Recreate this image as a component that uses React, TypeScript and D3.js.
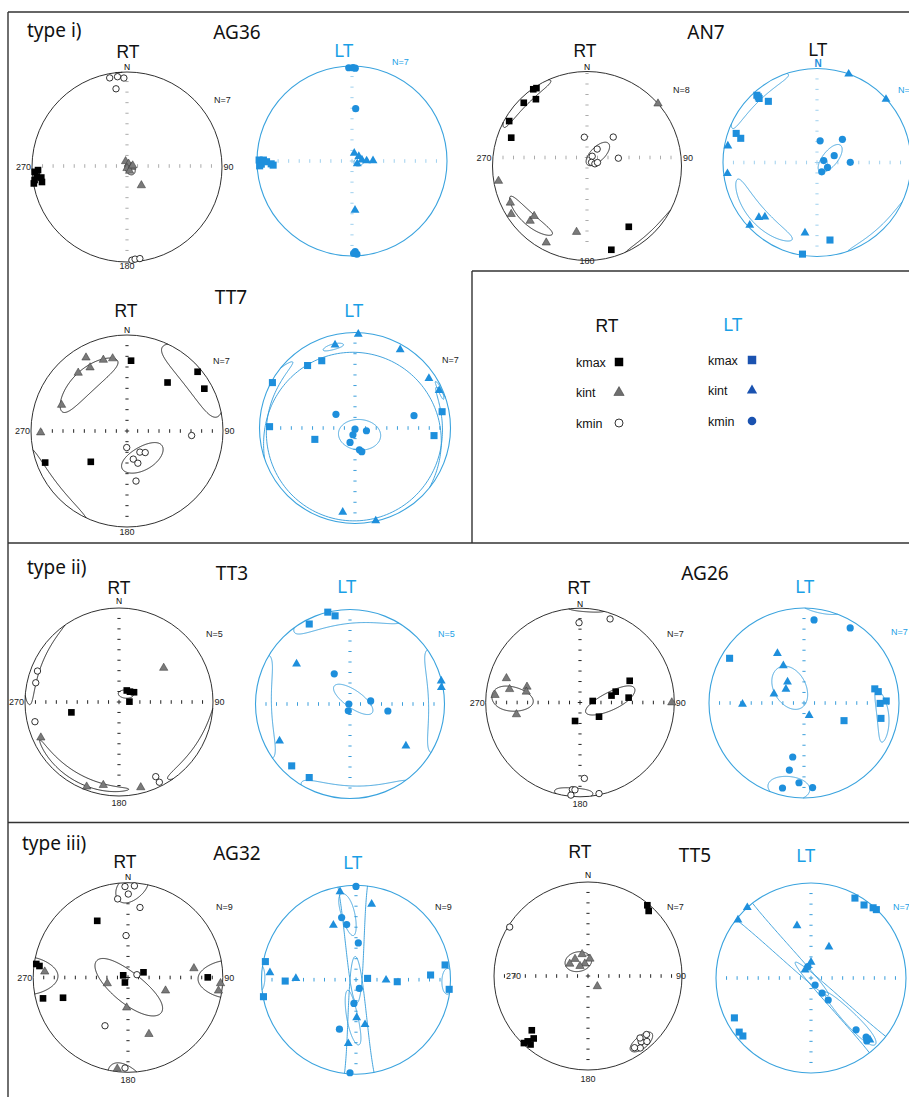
import React from "react";
import * as d3 from "d3";

type TP = [number, number]; // [trend, plunge] in degrees
type EL = [number, number, number, number, number]; // [trend, plunge, semiA, semiB, azimuth of A axis]

// ---------------- DATA (trend, plunge) ----------------
const AG36_RT_KMAX: TP[] = [[267,3],[264,5],[262,2],[263,10],[260,10],[260,0.5],[268,7]];
const AG36_RT_KINT: TP[] = [[346,85],[27,87],[90,86],[180,89],[146,86],[76,85],[142,70]];
const AG36_RT_KMIN: TP[] = [[349,5],[354,5],[358,7],[352,18],[177,2],[175,3],[172,3]];
const AG36_RT_ELL: EL[] = [[120,87,5.5,4,150],[175,2,3.5,2.5,85]];

const AG36_LT_KMAX: TP[] = [[270.6,2.5],[268,5],[270.6,7.5],[269.5,11],[268,16],[267,18],[267,3]];
const AG36_LT_KINT: TP[] = [[16,83],[56,83],[89,77.5],[89,72],[84,81.5],[117,85],[176.5,47]];
const AG36_LT_KMIN: TP[] = [[358,2],[0.6,2],[2,2.5],[4,44],[178,5],[177,2],[179,3]];
const AG36_LT_ELL: EL[] = [[95,84,4.5,3.5,60]];

const AN7_RT_KMAX: TP[] = [[325,1],[327,2],[315,6],[322.6,12],[300,5.5],[290.5,15.5],[145.5,23],[163.8,8.5]];
const AN7_RT_KINT: TP[] = [[48.7,0],[260.4,5.6],[244.4,11],[237.6,5.6],[226,17.5],[226.5,24],[208,9],[189,30]];
const AN7_RT_KMIN: TP[] = [[354.7,65],[42.2,56],[31,73],[28,80.5],[76,62],[51,85],[74.5,83],[71.6,80.5]];
const AN7_RT_ELL: EL[] = [[316,3,21,7,44],[228,18,20,6.5,128],[42,76,13,6,45]];

const AN7_LT_KMAX: TP[] = [[318.2,4.5],[317.9,9],[318.2,7],[321.5,18],[289.8,9.5],[287.6,16],[170.5,17.5],[189,1.5]];
const AN7_LT_KINT: TP[] = [[19.7,0],[47.5,0.5],[280.5,4],[263,4.5],[226.6,16],[223.8,21],[227,2.5],[189.7,25]];
const AN7_LT_KMIN: TP[] = [[8.2,71],[47.6,60],[68.5,74],[74,84],[89.7,61],[115,80],[153,81]];
const AN7_LT_ELL: EL[] = [[317,3,25,8,45],[228,17,29,9,138],[73,78,14.5,6.5,39]];

const TT7_RT_KMAX: TP[] = [[3.3,27.5],[39.9,34.5],[50,4.5],[61.3,9],[248.9,9.5],[229.6,49]];
const TT7_RT_KINT: TP[] = [[330.8,13.5],[341.6,23],[348.8,24],[329.8,24.5],[320,22],[291.7,27.5],[269,11]];
const TT7_RT_KMIN: TP[] = [[94,33],[181,76],[148.6,69],[139.8,66],[167.4,65.5],[161.4,61],[169.8,46]];
const TT7_RT_ELL: EL[] = [[320,33,28.5,11,46],[52,7,29,17,142],[150,63,19,10,60]];

const TT7_LT_KMAX: TP[] = [[333.7,22.5],[322.8,19],[298.8,1.5],[270.9,11.5],[254.2,54],[79.4,8],[95.5,18]];
const TT7_LT_KINT: TP[] = [[2,2],[346.5,11.5],[30,6],[56.1,7.5],[66,4],[188.3,12],[167.4,0.5]];
const TT7_LT_KMIN: TP[] = [[305.7,70],[78.2,37],[180,89],[197,84],[103.6,80],[199,77],[168.5,71],[164,69]];
const TT7_LT_ELL: EL[] = [[146,83,18,13,95],[345,13,7,3,75],[10,9.5,127,12.5,100],[66,3,6,2,156]];

const TT3_RT_KMAX: TP[] = [[34,78],[46.8,77],[57,74.5],[88,81],[257.7,47]];
const TT3_RT_KINT: TP[] = [[52.7,40],[245.5,9.5],[200.9,4],[190.7,11],[165.7,7]];
const TT3_RT_KMIN: TP[] = [[290.8,8],[283,10],[256.8,9],[153.8,12.5],[153.3,5]];
const TT3_RT_ELL: EL[] = [[41,81,6.5,3.5,95],[209,9,35,4.5,299],[298,1,30,8,18]];

const TT3_LT_KMAX: TP[] = [[346.4,0],[350.4,6],[333,5.6],[223.3,11],[209,12]];
const TT3_LT_KINT: TP[] = [[306.9,30],[75.8,0.5],[79.8,2],[242.4,17],[126.8,27]];
const TT3_LT_KMIN: TP[] = [[332.4,60.5],[81.5,72],[270,89],[194,84],[100.5,56.5]];
const TT3_LT_ELL: EL[] = [[357,1,35,15,79],[88,0,33,18,178],[35,85,20,7.5,125]];

const AG26_RT_KMAX: TP[] = [[66.4,42],[73.1,57.5],[77.6,62],[83.2,79],[84.3,47],[126.7,69.5],[195,73.5]];
const AG26_RT_KINT: TP[] = [[288.2,19],[280.7,25],[286.5,41],[281.3,41.5],[275,10.5],[259.4,32],[90,3]];
const AG26_RT_KMIN: TP[] = [[19.8,6.5],[359.3,16.5],[176.7,20.5],[185,8],[183.3,8],[185.6,1.5],[168.2,1.5]];
const AG26_RT_ELL: EL[] = [[87,63,24,7.5,65],[273,28,21,9,97],[184,3,12,7,274]];

const AG26_LT_KMAX: TP[] = [[301,9.5],[78.7,25],[81.3,22],[90.3,21],[88.6,14.5],[101.3,18.5],[113.8,52]];
const AG26_LT_KINT: TP[] = [[331.8,40.5],[331,53],[322,67],[307.4,70.5],[286.7,63],[269,35.5],[157.4,78.5]];
const AG26_LT_KMIN: TP[] = [[6.9,13],[31.6,8],[191.8,41.5],[192.3,28.5],[183.6,17],[194.2,8.5],[174.2,11.5]];
const AG26_LT_ELL: EL[] = [[99,17,19,6,165],[317,72,20,13.5,150],[190,9,14,13,65]];

const AG32_RT_KMAX: TP[] = [[331.5,32.5],[278.4,2.5],[277.4,6.5],[71.4,76],[89.9,17],[211.8,85],[256.2,8.5],[252.7,29],[294.6,85.5]];
const AG32_RT_KINT: TP[] = [[274,13],[254.2,71.5],[182.5,64],[109.3,55.5],[82.1,30.5],[93.6,2.5],[98.3,4],[159.7,36.5],[186.7,3.5]];
const AG32_RT_KMIN: TP[] = [[358.1,4.5],[4,3.5],[0.2,13],[352.5,17.5],[9.7,26],[357.3,53.5],[72.6,82],[205.5,43],[181.9,5]];
const AG32_RT_ELL: EL[] = [[178,81,36,13,129],[271,0,27,11,91],[2,6,17,9,200]];

const AG32_LT_KMAX: TP[] = [[281.3,2.5],[259.6,0.5],[268.9,26],[83.5,80],[92.8,54],[86.4,22],[80.6,5],[95.9,1]];
const AG32_LT_KINT: TP[] = [[349.7,6],[11.7,19.5],[337.5,37.5],[274.7,9.5],[271.3,36.5],[90.6,64],[179,57],[168.6,50],[186.9,32.5]];
const AG32_LT_KMIN: TP[] = [[0,1.5],[347,33],[350.4,40.5],[3.6,58],[159,82],[185,69.5],[198.5,44],[183.7,1.5]];
const AG32_LT_ELL: EL[] = [[358,0,110,9,178],[353,30,21.5,5,167],[185,56,25,4.6,170],[91,3,8,7,181]];

const TT5_RT_KMAX: TP[] = [[40,2],[43,6],[226,18],[221,13],[222.7,6],[223.7,1.5],[220,5.5]];
const TT5_RT_KINT: TP[] = [[322.6,71.5],[344.8,70.5],[6.3,75],[303.7,71],[345.7,79],[321,79],[137.9,78]];
const TT5_RT_KMIN: TP[] = [[302,2],[141,11],[138,7],[144,6],[135,13],[147,10],[140,15]];
const TT5_RT_ELL: EL[] = [[141,10,9,7,50]].concat([[326,75,11.5,8.5,80]]) as EL[];

const TT5_LT_KMAX: TP[] = [[28.8,4.5],[36,5.6],[41.5,1.5],[43.7,0.5],[242.5,10],[233,6],[229.6,6.5]];
const TT5_LT_KINT: TP[] = [[317.9,0],[308.5,2],[345,42.5],[30,59],[0,76.5],[323,81.5],[136.4,11]];
const TT5_LT_KMIN: TP[] = [[150,83],[143.7,74],[139,28.5],[137,16],[138.4,12.5],[344.6,80],[142,66]];
const TT5_LT_ELL: EL[] = [[315,1,110,7,135],[136,38,35,5,316]];

const LEGEND_KEYS = ["kmax", "kint", "kmin"];

// ---------------- colours ----------------
const LT_RIM = "#3aa3de";
const LT_SYM = "#1e8fdc";
const LT_ELL = "#2f9ad9";
const LT_TXT = "#1a9fe6";
const LT_TICK = "#3a9edb";
const LT_TICK_L = "#9fd0ee";
const RT_TICK = "#222";
const RT_TICK_L = "#ababab";
const LEG_BLUE = "#1a52b0";

// ---------------- projection helpers (equal-area, lower hemisphere) ----------------
const RAD = Math.PI / 180;
type V3 = [number, number, number];
const dirVec = (t: number, p: number): V3 => [
  Math.sin(t * RAD) * Math.cos(p * RAD),
  Math.cos(t * RAD) * Math.cos(p * RAD),
  Math.sin(p * RAD),
];
const flat = (v: V3): [number, number] => {
  const k = 1 / Math.sqrt(1 + Math.max(0, v[2]));
  return [v[0] * k, v[1] * k];
};
const lower = (v: V3): V3 => (v[2] < 0 ? [-v[0], -v[1], -v[2]] : v);
const projTP = (tp: TP) => flat(lower(dirVec(tp[0], Math.max(0, tp[1]))));

function ellipsePieces(e: EL): [number, number][][] {
  const [t, p, a, b, az] = e;
  const T = t * RAD, P = p * RAD;
  const m = dirVec(t, p);
  const u2: V3 = [Math.cos(T), -Math.sin(T), 0];
  const u1: V3 = [-Math.sin(T) * Math.sin(P), -Math.cos(T) * Math.sin(P), Math.cos(P)];
  const w = (az - t - 90) * RAD;
  const A = u2.map((c, i) => c * Math.cos(w) + u1[i] * Math.sin(w));
  const B = u2.map((c, i) => -c * Math.sin(w) + u1[i] * Math.cos(w));
  const n = 360;
  const pts: V3[] = [];
  for (let i = 0; i < n; i++) {
    const f = (i / n) * 2 * Math.PI;
    const al = a * RAD * Math.cos(f), be = b * RAD * Math.sin(f);
    const ca = Math.cos(al), sa = Math.sin(al), cb = Math.cos(be), sb = Math.sin(be);
    pts.push([0, 1, 2].map((k) => m[k] * ca * cb + A[k] * sa * cb + B[k] * sb) as V3);
  }
  const down = pts.map((v) => v[2] >= 0);
  let start = -1;
  for (let i = 0; i < n; i++) {
    if (down[i] !== down[(i - 1 + n) % n]) { start = i; break; }
  }
  if (start < 0) {
    const ring = pts.map((v) => flat(lower(v)));
    ring.push(ring[0]);
    return [ring];
  }
  const cross = (i: number): V3 => {
    const v0 = pts[(i - 1 + n) % n], v1 = pts[i];
    const s = v0[2] / (v0[2] - v1[2]);
    const c = [0, 1, 2].map((k) => v0[k] + (v1[k] - v0[k]) * s);
    const L = Math.hypot(c[0], c[1]) || 1;
    return [c[0] / L, c[1] / L, 0];
  };
  const side = (c: V3, isDown: boolean): [number, number] => (isDown ? [c[0], c[1]] : [-c[0], -c[1]]);
  const pieces: [number, number][][] = [];
  const c0 = cross(start);
  let cur: [number, number][] = [side(c0, down[start])];
  for (let j = 0; j < n; j++) {
    const i = (start + j) % n;
    const prev = (i - 1 + n) % n;
    if (j > 0 && down[i] !== down[prev]) {
      const c = cross(i);
      cur.push(side(c, down[prev]));
      pieces.push(cur);
      cur = [side(c, down[i])];
    }
    cur.push(flat(lower(pts[i])));
  }
  cur.push(side(c0, down[(start - 1 + n) % n]));
  pieces.push(cur);
  return pieces;
}

// ---------------- layout ----------------
interface NetSpec {
  id: string; kind: "RT" | "LT"; cx: number; cy: number; R: number;
  kmax: TP[]; kint: TP[]; kmin: TP[]; ell: EL[]; tick: string; axisDy?: number;
  head: [number, number, string]; nTop?: [number, number, string, boolean];
  compass?: { y: number; y180: number; x270?: number; x90?: number };
  nEq: [string, number, number, string];
}

const NETS: NetSpec[] = [
  { id: "AG36RT", kind: "RT", cx: 127, cy: 167, R: 95, kmax: AG36_RT_KMAX, kint: AG36_RT_KINT, kmin: AG36_RT_KMIN, ell: AG36_RT_ELL, tick: RT_TICK_L, axisDy: -1,
    head: [128, 57.5, "#111"], nTop: [127, 70, "#000", false], compass: { y: 170, y180: 269 }, nEq: ["N=7", 214, 102.5, "#222"] },
  { id: "AG36LT", kind: "LT", cx: 352, cy: 161, R: 95, kmax: AG36_LT_KMAX, kint: AG36_LT_KINT, kmin: AG36_LT_KMIN, ell: AG36_LT_ELL, tick: LT_TICK_L,
    head: [344, 56.5, LT_TXT], nEq: ["N=7", 392, 64.5, LT_TXT] },
  { id: "AN7RT", kind: "RT", cx: 587, cy: 166, R: 94.5, kmax: AN7_RT_KMAX, kint: AN7_RT_KINT, kmin: AN7_RT_KMIN, ell: AN7_RT_ELL, tick: RT_TICK_L, axisDy: -8.5,
    head: [585, 56.5, "#111"], nTop: [587, 69.5, "#000", false], compass: { y: 161, y180: 263.5 }, nEq: ["N=8", 673, 92.7, "#222"] },
  { id: "AN7LT", kind: "LT", cx: 817, cy: 162.5, R: 94, kmax: AN7_LT_KMAX, kint: AN7_LT_KINT, kmin: AN7_LT_KMIN, ell: AN7_LT_ELL, tick: LT_TICK_L,
    head: [818, 56, "#111"], nTop: [818, 67, LT_SYM, true], nEq: ["N=8", 898, 93, LT_TXT] },
  { id: "TT7RT", kind: "RT", cx: 127, cy: 431, R: 96, kmax: TT7_RT_KMAX, kint: TT7_RT_KINT, kmin: TT7_RT_KMIN, ell: TT7_RT_ELL, tick: RT_TICK,
    head: [126, 316.5, "#111"], nTop: [127, 332.5, "#000", false], compass: { y: 434, y180: 535 }, nEq: ["N=7", 213, 364, "#222"] },
  { id: "TT7LT", kind: "LT", cx: 355, cy: 428, R: 95.5, kmax: TT7_LT_KMAX, kint: TT7_LT_KINT, kmin: TT7_LT_KMIN, ell: TT7_LT_ELL, tick: LT_TICK,
    head: [354, 316.5, LT_TXT], nEq: ["N=7", 442, 363, "#222"] },
  { id: "TT3RT", kind: "RT", cx: 119, cy: 702, R: 94, kmax: TT3_RT_KMAX, kint: TT3_RT_KINT, kmin: TT3_RT_KMIN, ell: TT3_RT_ELL, tick: RT_TICK,
    head: [119, 594, "#111"], nTop: [119, 604, "#000", false], compass: { y: 705, y180: 806 }, nEq: ["N=5", 206, 636.7, "#222"] },
  { id: "TT3LT", kind: "LT", cx: 350, cy: 704, R: 94.5, kmax: TT3_LT_KMAX, kint: TT3_LT_KINT, kmin: TT3_LT_KMIN, ell: TT3_LT_ELL, tick: LT_TICK,
    head: [347, 593, LT_TXT], nEq: ["N=5", 438, 637, LT_TXT] },
  { id: "AG26RT", kind: "RT", cx: 580, cy: 702.5, R: 94.3, kmax: AG26_RT_KMAX, kint: AG26_RT_KINT, kmin: AG26_RT_KMIN, ell: AG26_RT_ELL, tick: RT_TICK,
    head: [579, 594, "#111"], nTop: [580, 606.5, "#000", false], compass: { y: 706, y180: 807 }, nEq: ["N=7", 667, 636.7, "#222"] },
  { id: "AG26LT", kind: "LT", cx: 804, cy: 703, R: 95, kmax: AG26_LT_KMAX, kint: AG26_LT_KINT, kmin: AG26_LT_KMIN, ell: AG26_LT_ELL, tick: LT_TICK,
    head: [805, 593, LT_TXT], nEq: ["N=7", 891, 635, LT_TXT] },
  { id: "AG32RT", kind: "RT", cx: 128, cy: 977.5, R: 94.8, kmax: AG32_RT_KMAX, kint: AG32_RT_KINT, kmin: AG32_RT_KMIN, ell: AG32_RT_ELL, tick: RT_TICK,
    head: [125, 868, "#111"], nTop: [128, 880, "#000", false], compass: { y: 980.5, y180: 1083 }, nEq: ["N=9", 216, 910, "#222"] },
  { id: "AG32LT", kind: "LT", cx: 356, cy: 979.7, R: 94.5, kmax: AG32_LT_KMAX, kint: AG32_LT_KINT, kmin: AG32_LT_KMIN, ell: AG32_LT_ELL, tick: LT_TICK,
    head: [353, 869, LT_TXT], nEq: ["N=9", 435, 910, "#222"] },
  { id: "TT5RT", kind: "RT", cx: 588, cy: 976, R: 94, kmax: TT5_RT_KMAX, kint: TT5_RT_KINT, kmin: TT5_RT_KMIN, ell: TT5_RT_ELL, tick: RT_TICK,
    head: [580, 858, "#111"], nTop: [588, 878, "#000", false], compass: { y: 979, y180: 1082, x270: 521, x90: 676 }, nEq: ["N=7", 667, 910, "#222"] },
  { id: "TT5LT", kind: "LT", cx: 811, cy: 978, R: 95, kmax: TT5_LT_KMAX, kint: TT5_LT_KINT, kmin: TT5_LT_KMIN, ell: TT5_LT_ELL, tick: LT_TICK,
    head: [806, 862, LT_TXT], nEq: ["N=7", 893, 910, LT_TXT] },
];

const TITLES: [string, number, number][] = [
  ["AG36", 237, 39], ["AN7", 706, 39], ["TT7", 231, 304], ["TT3", 232, 580],
  ["AG26", 705, 580], ["AG32", 237, 860], ["TT5", 695, 862],
];
const TYPES: [string, number, number][] = [["type i)", 27, 36.5], ["type ii)", 27, 574], ["type iii)", 22, 850]];

const SMALL = "'Liberation Sans', Arial, sans-serif";
const HEAD = "'Liberation Sans Narrow', 'Liberation Sans', Arial, sans-serif";
const TITLE = "'Noto Sans', 'Open Sans', sans-serif";

function Net({ s }: { s: NetSpec }) {
  const xs = d3.scaleLinear().domain([-1, 1]).range([s.cx - s.R, s.cx + s.R]);
  const ys = d3.scaleLinear().domain([-1, 1]).range([s.cy + s.R, s.cy - s.R]);
  const line = d3.line<[number, number]>().x((d) => xs(d[0])).y((d) => ys(d[1]));
  const lt = s.kind === "LT";
  const rim = lt ? LT_RIM : "#1a1a1a";
  const sym = lt ? LT_SYM : "#000";
  const tk = d3.range(1, 9).map((k) => k / 9);
  const sq = d3.symbol().type(d3.symbolSquare).size(lt ? 50 : 44)() as string;
  const tri = d3.symbol().type(d3.symbolTriangle).size(lt ? 34 : 30)() as string;
  const pos = (tp: TP) => {
    const [x, y] = projTP(tp);
    return [xs(x), ys(y)];
  };
  const dy = s.axisDy ?? 0;
  const x0 = xs(0), y0 = ys(0);
  const ya = y0 + dy;
  return (
    <g>
      <circle cx={x0} cy={y0} r={xs(1) - x0} fill="none" stroke={rim} strokeWidth={lt ? 1.1 : 0.9} />
      <g stroke={s.tick} strokeWidth={1}>
        {tk.map((k) => (
          <g key={k}>
            <line x1={x0 - 1.6} x2={x0 + 1.6} y1={ys(k) + dy} y2={ys(k) + dy} />
            <line x1={x0 - 1.6} x2={x0 + 1.6} y1={ys(-k) + dy} y2={ys(-k) + dy} />
            <line x1={xs(k)} x2={xs(k)} y1={ya - 1.8} y2={ya + 1.8} />
            <line x1={xs(-k)} x2={xs(-k)} y1={ya - 1.8} y2={ya + 1.8} />
          </g>
        ))}
        <line x1={x0 - 2.2} x2={x0 + 2.2} y1={ya} y2={ya} />
        <line x1={x0} x2={x0} y1={ya - 2.2} y2={ya + 2.2} />
      </g>
      <g fill="none" stroke={lt ? LT_ELL : "#111"} strokeWidth={0.9}>
        {s.ell.map((e, i) =>
          ellipsePieces(e).map((pc, j) => <path key={i + "-" + j} d={line(pc) as string} />)
        )}
      </g>
      <g fill={sym}>
        {s.kmax.map((tp, i) => {
          const [x, y] = pos(tp);
          return <path key={i} d={sq} transform={`translate(${x},${y})`} />;
        })}
      </g>
      <g fill={lt ? LT_SYM : "#7a7a7a"} stroke={lt ? "none" : "#333"} strokeWidth={0.5}>
        {s.kint.map((tp, i) => {
          const [x, y] = pos(tp);
          return <path key={i} d={tri} transform={`translate(${x},${y})`} />;
        })}
      </g>
      <g>
        {s.kmin.map((tp, i) => {
          const [x, y] = pos(tp);
          return lt ? (
            <circle key={i} cx={x} cy={y} r={3.6} fill={LT_SYM} />
          ) : (
            <circle key={i} cx={x} cy={y} r={3.2} fill="#fff" stroke="#000" strokeWidth={0.8} />
          );
        })}
      </g>
      <text x={s.head[0]} y={s.head[1]} fill={s.head[2]} fontFamily={HEAD} fontSize={17.5} textAnchor="middle">
        {s.kind}
      </text>
      {s.nTop && (
        <text x={s.nTop[0]} y={s.nTop[1]} fill={s.nTop[2]} fontFamily={SMALL} fontSize={s.nTop[3] ? 10 : 8.5}
          fontWeight={s.nTop[3] ? 700 : 400} textAnchor="middle">N</text>
      )}
      {s.compass && (
        <g fontFamily={SMALL} fontSize={9} fill="#222">
          <text x={s.compass.x270 ?? s.cx - s.R - 1} y={s.compass.y} textAnchor="end">270</text>
          <text x={s.compass.x90 ?? s.cx + s.R + 1.5} y={s.compass.y} textAnchor="start">90</text>
          <text x={s.cx} y={s.compass.y180} textAnchor="middle">180</text>
        </g>
      )}
      <text x={s.nEq[1]} y={s.nEq[2]} fill={s.nEq[3]} fontFamily={SMALL} fontSize={9}>
        {s.nEq[0]}
      </text>
    </g>
  );
}

function Legend() {
  const sq = d3.symbol().type(d3.symbolSquare).size(72)() as string;
  const tri = d3.symbol().type(d3.symbolTriangle).size(46)() as string;
  const rowY = d3.scalePoint<string>().domain(LEGEND_KEYS).range([362, 423]);
  return (
    <g>
      <text x={607} y={331.5} fontFamily={HEAD} fontSize={17.5} textAnchor="middle" fill="#111">RT</text>
      <text x={733} y={331} fontFamily={HEAD} fontSize={17.5} textAnchor="middle" fill={LT_TXT}>LT</text>
      {LEGEND_KEYS.map((k, i) => {
        const y = rowY(k) as number;
        return (
          <g key={k} fontFamily={SMALL} fontSize={12.5} fill="#111">
            <text x={576} y={y + 4.5}>{k}</text>
            <text x={708} y={y + 2.5}>{k}</text>
            {i === 0 && <path d={sq} transform={`translate(619,${y})`} fill="#000" />}
            {i === 1 && <path d={tri} transform={`translate(619,${y})`} fill="#6e6e6e" stroke="#333" strokeWidth={0.5} />}
            {i === 2 && <circle cx={619} cy={y} r={4} fill="#fff" stroke="#000" strokeWidth={0.8} />}
            {i === 0 && <path d={sq} transform={`translate(752,${y - 2})`} fill={LEG_BLUE} />}
            {i === 1 && <path d={tri} transform={`translate(752,${y - 2})`} fill={LEG_BLUE} />}
            {i === 2 && <circle cx={752} cy={y - 2} r={4.3} fill={LEG_BLUE} />}
          </g>
        );
      })}
    </g>
  );
}

export default function App() {
  return (
    <svg width={909} height={1097} viewBox="0 0 909 1097" xmlns="http://www.w3.org/2000/svg"
      style={{ position: "absolute", left: 0, top: 0, display: "block", background: "#fff" }}>
      <rect x={0} y={0} width={909} height={1097} fill="#fff" />
      <g stroke="#333" strokeWidth={1.4} fill="none">
        <line x1={8} x2={909} y1={12} y2={12} />
        <line x1={8} x2={8} y1={12} y2={1097} />
        <line x1={8} x2={909} y1={543} y2={543} />
        <line x1={8} x2={909} y1={822.5} y2={822.5} />
        <line x1={472} x2={472} y1={271} y2={543} />
        <line x1={472} x2={909} y1={271} y2={271} />
      </g>
      {NETS.map((s) => <Net key={s.id} s={s} />)}
      {TITLES.map(([t, x, y]) => (
        <text key={t} x={x} y={y} fontFamily={TITLE} fontSize={19} textAnchor="middle" fill="#111">{t}</text>
      ))}
      {TYPES.map(([t, x, y]) => (
        <text key={t} x={x} y={y} fontFamily={TITLE} fontSize={19} fill="#111">{t}</text>
      ))}
      <Legend />
    </svg>
  );
}
